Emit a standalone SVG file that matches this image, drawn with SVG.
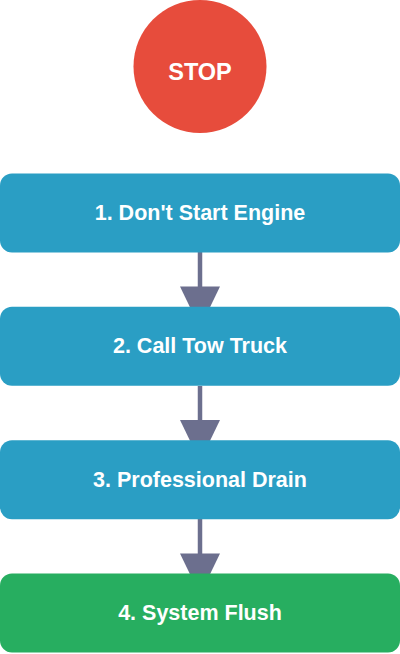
<svg xmlns="http://www.w3.org/2000/svg" width="400" height="654" viewBox="0 0 400 654">
<style>
.box{fill:#2A9EC4}
.green{fill:#27AE60}
.lbl{font-family:"Liberation Sans",Arial,sans-serif;font-weight:bold;font-size:21.5px;fill:#FFFFFF;text-anchor:middle}
.edge{stroke:#6C6F8E;stroke-width:4.5;fill:none}
.head{fill:#6C6F8E}
</style>
<rect width="400" height="654" fill="#FFFFFF"/>
<g id="connectors">
<line class="edge" x1="200" y1="252" x2="200" y2="300"/>
<polygon class="head" points="180,286.5 220,286.5 200,328"/>
<line class="edge" x1="200" y1="386" x2="200" y2="433"/>
<polygon class="head" points="180,420 220,420 200,461.5"/>
<line class="edge" x1="200" y1="519" x2="200" y2="566"/>
<polygon class="head" points="180,553.5 220,553.5 200,595"/>
</g>
<g id="stop">
<circle cx="200" cy="66.5" r="66.5" fill="#E74C3C"/>
<text class="lbl" x="200" y="80" style="font-size:23.5px">STOP</text>
</g>
<g id="step1">
<rect class="box" x="0" y="173.5" width="400" height="79" rx="12"/>
<text class="lbl" x="200" y="220">1. Don't Start Engine</text>
</g>
<g id="step2">
<rect class="box" x="0" y="306.8" width="400" height="79" rx="12"/>
<text class="lbl" x="200" y="353.3">2. Call Tow Truck</text>
</g>
<g id="step3">
<rect class="box" x="0" y="440.2" width="400" height="79" rx="12"/>
<text class="lbl" x="200" y="486.7">3. Professional Drain</text>
</g>
<g id="step4">
<rect class="green" x="0" y="573.5" width="400" height="79" rx="12"/>
<text class="lbl" x="200" y="620">4. System Flush</text>
</g>
</svg>
